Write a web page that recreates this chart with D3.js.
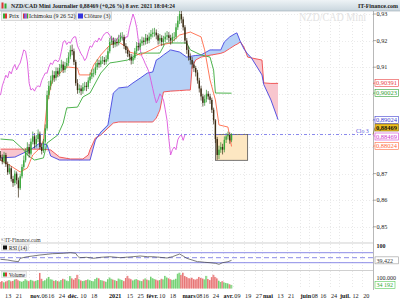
<!DOCTYPE html>
<html lang="fr">
<head>
<meta charset="utf-8">
<title>NZD/CAD Mini</title>
<script src="https://cdnjs.cloudflare.com/ajax/libs/d3/7.8.5/d3.min.js"></script>
<style>
body { margin: 0; background: #fff; }
svg { display: block; }
text { font-family: "Liberation Serif", "DejaVu Serif", serif; }
</style>
</head>
<body>
<script>
// daily candles, one per weekday from 9 Oct 2020 to 8 Apr 2021
var opens = [0.8770,0.8760,0.8745,0.8770,0.8735,0.8705,0.8720,0.8680,0.8665,0.8700,
  0.8675,0.8645,0.8690,0.8725,0.8750,0.8780,0.8800,0.8775,0.8820,0.8840,
  0.8810,0.8830,0.8850,0.8800,0.8785,0.8820,0.8870,0.8995,0.9030,0.9050,
  0.9070,0.9060,0.9085,0.9075,0.9097,0.9110,0.9090,0.9105,0.9116,0.9140,
  0.9165,0.9160,0.9120,0.9040,0.9014,0.9020,0.9010,0.9025,0.9030,0.9026,
  0.9050,0.9065,0.9078,0.9078,0.9100,0.9116,0.9110,0.9125,0.9127,0.9120,
  0.9130,0.9160,0.9195,0.9200,0.9185,0.9195,0.9190,0.9205,0.9214,0.9214,
  0.9180,0.9165,0.9150,0.9140,0.9125,0.9135,0.9160,0.9180,0.9175,0.9190,
  0.9200,0.9195,0.9210,0.9200,0.9215,0.9225,0.9230,0.9230,0.9220,0.9200,
  0.9210,0.9195,0.9205,0.9215,0.9220,0.9210,0.9200,0.9214,0.9214,0.9250,
  0.9275,0.9300,0.9280,0.9250,0.9200,0.9165,0.9140,0.9127,0.9110,0.9097,
  0.9080,0.9050,0.9020,0.8990,0.8966,0.8980,0.9000,0.8990,0.8977,0.8940,
  0.8900,0.8830,0.8770,0.8790,0.8800,0.8790,0.8827,0.8840,0.8845,0.8825];
var closes = [0.8760,0.8745,0.8770,0.8735,0.8705,0.8720,0.8680,0.8665,0.8700,0.8675,
  0.8645,0.8690,0.8725,0.8750,0.8780,0.8800,0.8775,0.8820,0.8840,0.8810,
  0.8830,0.8850,0.8800,0.8785,0.8820,0.8870,0.8995,0.9030,0.9050,0.9070,
  0.9060,0.9085,0.9075,0.9097,0.9110,0.9090,0.9105,0.9116,0.9140,0.9165,
  0.9160,0.9120,0.9040,0.9014,0.9020,0.9010,0.9025,0.9030,0.9026,0.9050,
  0.9065,0.9078,0.9078,0.9100,0.9116,0.9110,0.9125,0.9127,0.9120,0.9130,
  0.9160,0.9195,0.9200,0.9185,0.9195,0.9190,0.9205,0.9214,0.9214,0.9180,
  0.9165,0.9150,0.9140,0.9125,0.9135,0.9160,0.9180,0.9175,0.9190,0.9200,
  0.9195,0.9210,0.9200,0.9215,0.9225,0.9230,0.9230,0.9220,0.9200,0.9210,
  0.9195,0.9205,0.9215,0.9220,0.9210,0.9200,0.9214,0.9214,0.9250,0.9275,
  0.9300,0.9280,0.9250,0.9200,0.9165,0.9140,0.9127,0.9110,0.9097,0.9080,
  0.9050,0.9020,0.8990,0.8966,0.8980,0.9000,0.8990,0.8977,0.8940,0.8900,
  0.8830,0.8770,0.8790,0.8800,0.8790,0.8827,0.8840,0.8845,0.8825,0.88469];
var highs = [0.8785,0.8772,0.8782,0.8778,0.8745,0.8736,0.8728,0.8692,0.8712,0.8708,
  0.8685,0.8700,0.8735,0.8768,0.8795,0.8818,0.8812,0.8832,0.8858,0.8852,
  0.8845,0.8866,0.8858,0.8812,0.8830,0.8885,0.9012,0.9048,0.9068,0.9088,
  0.9085,0.9100,0.9098,0.9112,0.9128,0.9122,0.9120,0.9134,0.9156,0.9182,
  0.9185,0.9170,0.9128,0.9055,0.9035,0.9032,0.9040,0.9045,0.9044,0.9062,
  0.9080,0.9092,0.9095,0.9115,0.9130,0.9128,0.9140,0.9142,0.9138,0.9145,
  0.9175,0.9210,0.9218,0.9212,0.9210,0.9208,0.9222,0.9230,0.9232,0.9222,
  0.9190,0.9178,0.9162,0.9150,0.9148,0.9172,0.9195,0.9192,0.9205,0.9215,
  0.9212,0.9225,0.9222,0.9230,0.9240,0.9246,0.9248,0.9242,0.9228,0.9225,
  0.9220,0.9218,0.9230,0.9236,0.9232,0.9222,0.9228,0.9232,0.9265,0.9292,
  0.9325,0.9312,0.9290,0.9258,0.9210,0.9178,0.9152,0.9138,0.9122,0.9105,
  0.9090,0.9060,0.9030,0.9000,0.8995,0.9015,0.9010,0.9000,0.8985,0.8948,
  0.8905,0.8838,0.8805,0.8818,0.8812,0.8840,0.8852,0.8858,0.8855,0.8852];
var lows = [0.8748,0.8735,0.8738,0.8725,0.8695,0.8698,0.8670,0.8650,0.8655,0.8660,
  0.8610,0.8638,0.8682,0.8715,0.8742,0.8768,0.8760,0.8768,0.8810,0.8795,
  0.8798,0.8818,0.8790,0.8772,0.8778,0.8812,0.8862,0.8980,0.9015,0.9038,
  0.9045,0.9050,0.9062,0.9066,0.9085,0.9078,0.9080,0.9095,0.9105,0.9130,
  0.9145,0.9108,0.9030,0.9000,0.9002,0.8995,0.9000,0.9012,0.9010,0.9018,
  0.9040,0.9055,0.9062,0.9070,0.9090,0.9098,0.9100,0.9112,0.9108,0.9110,
  0.9122,0.9152,0.9185,0.9172,0.9175,0.9178,0.9182,0.9195,0.9200,0.9168,
  0.9152,0.9138,0.9125,0.9110,0.9112,0.9128,0.9150,0.9162,0.9165,0.9180,
  0.9182,0.9185,0.9188,0.9190,0.9205,0.9212,0.9215,0.9205,0.9185,0.9188,
  0.9180,0.9182,0.9195,0.9202,0.9195,0.9185,0.9190,0.9198,0.9205,0.9240,
  0.9262,0.9265,0.9238,0.9188,0.9150,0.9125,0.9110,0.9095,0.9082,0.9065,
  0.9038,0.9005,0.8975,0.8952,0.8955,0.8968,0.8978,0.8962,0.8928,0.8885,
  0.8815,0.8752,0.8755,0.8778,0.8772,0.8780,0.8815,0.8828,0.8812,0.8818];
// volumes in thousands
var volumes = [62,70,58,66,74,80,68,72,85,90, 78,70,64,72,88,76,70,82,75,68,
  73,80,148,92,70,78,95,110,88,84, 72,78,70,66,80,92,86,74,70,118,
  96,84,100,130,88,76,70,74,80,86, 78,72,68,90,102,96,80,76,70,64,
  88,104,92,84,78,72,94,86,80,70, 100,120,96,88,76,84,90,80,74,70,
  86,96,84,78,112,98,90,84,76,80, 92,86,120,104,96,88,80,84,92,140,
  150,128,150,118,110,98,96,102,88,84, 92,110,100,94,86,120,90,80,108,130,
  110,96,74,62,70,58,52,48,40,34.192];

// ichimoku lines read at breakpoints (day number, price)
var tenkanDays = [0,5,11,15,18,22,24,26,28,29,32,37,43,44,50,52,56,61,66,71,72,78,84,89,95,100,106,112,114,117,120,122,127,129];
var tenkanVals = [0.8751,0.8732,0.8706,0.8721,0.8770,0.8796,0.8826,0.8965,0.9026,0.9052,0.9071,0.9101,0.9097,0.9071,0.9071,0.9108,0.9146,0.9183,0.9195,0.9172,0.9157,0.9146,0.9165,0.9183,0.9191,0.9221,0.9232,0.9214,0.9165,0.9052,0.8977,0.8883,0.8875,0.8802];
var kijunDays = [0,7,13,15,19,24,26,32,35,37,43,46,50,56,61,65,71,78,89,92,104,106,112,117,119,120,129];
var kijunVals = [0.8830,0.8826,0.8789,0.8770,0.8751,0.8759,0.8815,0.8845,0.8890,0.8947,0.8950,0.8988,0.9003,0.9078,0.9116,0.9120,0.9127,0.9153,0.9153,0.9191,0.9191,0.9165,0.9146,0.9138,0.9089,0.9003,0.90023];
var cloudDays = [0,8,14,18,22,26,28,33,39,46,49,50,53,56,60,63,66,71,74,78,82,85,87,89,91,95,100,104,106,107,109,112,117,123,125,128,131,132,134,136,138,140,146,147,151,155];
var senkouA = [0.8759,0.8762,0.8781,0.8796,0.8815,0.8808,0.8766,0.8751,0.8751,0.8751,0.8751,0.8751,0.8826,0.8856,0.8883,0.9003,0.9022,0.9026,0.9041,0.9059,0.9078,0.9082,0.9127,0.9135,0.9146,0.9165,0.9157,0.9138,0.9140,0.9142,0.9144,0.9146,0.9165,0.9165,0.9195,0.9214,0.9226,0.9229,0.9195,0.9168,0.9150,0.9136,0.9071,0.9035,0.8977,0.89024];
var senkouB = [0.8792,0.8792,0.8792,0.8792,0.8792,0.8790,0.8789,0.8762,0.8755,0.8755,0.8770,0.8790,0.8834,0.8845,0.8871,0.8890,0.8894,0.8894,0.8894,0.8894,0.8894,0.8894,0.8909,0.8939,0.9007,0.9010,0.9012,0.9014,0.9014,0.9101,0.9127,0.9138,0.9145,0.9152,0.9157,0.9170,0.9183,0.9186,0.9195,0.9175,0.9138,0.9135,0.9127,0.9041,0.9039,0.90391];
var chikouShift = 26;

var rsiDays = [0,4,7,10,11,15,18,22,26,29,35,39,42,43,44,48,52,56,61,67,74,78,82,85,89,93,96,100,102,104,107,110,111,114,117,120,122,124,127,129];
var rsiVals = [43.6,40.8,36.8,34,47.6,54,56.8,60.8,63.6,66,67.6,70,67.6,56.8,50,51.6,47.6,51.6,54,50,54,56.8,54,54,51.6,48.8,54,64.8,56.8,47.6,40.8,34,34,31.6,30,27.6,23.6,30,34,39.4];

// highlighted zone
var boxDays = [120, 138];
var boxPrices = [0.8847, 0.8750];

// x axis
var dayTicks = [["2020-10-13","13"],["2020-10-21","21"],["2020-11-06","06"],["2020-11-16","16"],["2020-11-24","24"],
  ["2020-12-10","10"],["2020-12-18","18"],["2021-01-15","15"],["2021-01-25","25"],["2021-02-10","10"],["2021-02-18","18"],
  ["2021-03-08","08"],["2021-03-16","16"],["2021-03-24","24"],["2021-04-09","09"],["2021-04-19","19"],["2021-04-27","27"],
  ["2021-05-13","13"],["2021-05-21","21"],["2021-06-08","08"],["2021-06-16","16"],["2021-06-24","24"],["2021-07-12","12"],["2021-07-20","20"]];
var monthTicks = [["2020-11-02","nov."],["2020-12-01","déc."],["2021-01-01","2021"],["2021-02-01","févr."],["2021-03-01","mars"],
  ["2021-04-01","avr."],["2021-05-03","mai"],["2021-06-01","juin"],["2021-07-01","juil."]];
var priceTicks = [0.93, 0.92, 0.91, 0.87, 0.86, 0.85];
var priceGrid = [0.93, 0.92, 0.91, 0.90, 0.89, 0.88, 0.87, 0.86, 0.85];

// axis value tags: [value, text, border, background, text colour]
var tags = [
  [0.90391, "0,90391", "#e84040", "#fff", "#e84040"],
  [0.90023, "0,90023", "#30a030", "#fff", "#30a030"],
  [0.89024, "0,89024", "#4040d0", "#fff", "#4040d0"],
  [0.88469, "0,88469", "#7a6010", "#f0c020", "#111"],
  [0.88469, "0,88469", "#d040d0", "#fff", "#d040d0"],
  [0.88024, "0,88024", "#ff6a40", "#fff", "#ff6a40"]];
var tagY = [83, 93, 120, 127.5, 136.5, 145.8];

var w = 400, h = 300;
var plotR = 373;

var svg = d3.select("body").append("svg").attr("width", w).attr("height", h);

// weekday calendar
var fmt = d3.timeFormat("%Y-%m-%d");
var days = [];
for (var d = new Date(2020, 9, 9); days.length < 220; d.setDate(d.getDate() + 1)) {
  if (d.getDay() != 0 && d.getDay() != 6) days.push(fmt(d));
}
function dayIdx(s) { return days.indexOf(s); }

var x = d3.scaleLinear().domain([0, 208]).range([0.5, plotR]);
var y = d3.scaleLinear().domain([0.85, 0.93]).range([226.8, 14]);
var yR = d3.scaleLinear().domain([0, 100]).range([270.2, 245.2]);
var yV = d3.scaleLinear().domain([0, 100]).range([288.5, 278]);

var defs = svg.append("defs");
defs.append("clipPath").attr("id", "main").append("rect").attr("x", 0).attr("y", 11).attr("width", plotR).attr("height", 225);

// header
var grad = defs.append("linearGradient").attr("id", "hdr").attr("x1", 0).attr("y1", 0).attr("x2", 0).attr("y2", 1);
grad.append("stop").attr("offset", 0).attr("stop-color", "#eef3f6");
grad.append("stop").attr("offset", 1).attr("stop-color", "#c9d6de");
svg.append("rect").attr("width", w).attr("height", 11).attr("fill", "url(#hdr)");
svg.append("line").attr("x1", 0).attr("x2", w).attr("y1", 11).attr("y2", 11).attr("stroke", "#9aa8b2").attr("stroke-width", 0.6);
svg.append("rect").attr("x", 1.5).attr("y", 2.5).attr("width", 2).attr("height", 6).attr("fill", "#d33");
svg.append("rect").attr("x", 4.5).attr("y", 3.5).attr("width", 2).attr("height", 5).attr("fill", "#3a3");
svg.append("text").attr("x", 11).attr("y", 8).attr("font-size", 6.6).attr("font-weight", "bold").attr("fill", "#222")
  .attr("textLength", 164).attr("lengthAdjust", "spacingAndGlyphs")
  .text("NZD/CAD Mini Journalier 0,88469 (+0,26 %) 8 avr. 2021 18:04:24");
svg.append("text").attr("x", 398).attr("y", 8).attr("text-anchor", "end").attr("font-size", 6.4).attr("font-weight", "bold")
  .attr("fill", "#222").attr("textLength", 40).attr("lengthAdjust", "spacingAndGlyphs").text("IT-Finance.com");

// watermark
svg.append("text").attr("x", 299).attr("y", 21).attr("font-size", 11.5).attr("fill", "#e2e2e2")
  .attr("textLength", 67).attr("lengthAdjust", "spacingAndGlyphs").text("NZD/CAD Mini");

// grid
var allTicks = dayTicks.concat(monthTicks);
svg.append("g").selectAll("line").data(allTicks).enter().append("line")
  .attr("x1", function(t) { return Math.round(x(dayIdx(t[0]))) + 0.5; })
  .attr("x2", function(t) { return Math.round(x(dayIdx(t[0]))) + 0.5; })
  .attr("y1", 22).attr("y2", 289)
  .attr("stroke", "#e2e2e2").attr("stroke-width", 0.8).attr("stroke-dasharray", "1,2");
svg.append("g").selectAll("line").data(priceGrid).enter().append("line")
  .attr("x1", 0).attr("x2", plotR)
  .attr("y1", function(p) { return Math.round(y(p)) + 0.5; })
  .attr("y2", function(p) { return Math.round(y(p)) + 0.5; })
  .attr("stroke", "#e6e6e6").attr("stroke-width", 0.8).attr("stroke-dasharray", "1,2");

var main = svg.append("g").attr("clip-path", "url(#main)");

// highlighted zone
main.append("rect")
  .attr("x", x(boxDays[0])).attr("y", y(boxPrices[0]))
  .attr("width", x(boxDays[1]) - x(boxDays[0])).attr("height", y(boxPrices[1]) - y(boxPrices[0]))
  .attr("fill", "#fde7c2").attr("stroke", "#555").attr("stroke-width", 0.8);

// cloud
var cloud = cloudDays.map(function(dd, i) { return { d: dd, a: senkouA[i], b: senkouB[i] }; });
defs.append("clipPath").attr("id", "aboveB").append("path")
  .attr("d", d3.area().x(function(c) { return x(c.d); }).y0(0).y1(function(c) { return y(c.b); })(cloud));
defs.append("clipPath").attr("id", "belowB").append("path")
  .attr("d", d3.area().x(function(c) { return x(c.d); }).y0(h).y1(function(c) { return y(c.b); })(cloud));
var between = d3.area().x(function(c) { return x(c.d); })
  .y0(function(c) { return y(c.b); }).y1(function(c) { return y(c.a); });
main.append("path").attr("d", between(cloud)).attr("fill", "#b7d1f6").attr("clip-path", "url(#aboveB)");
main.append("path").attr("d", between(cloud)).attr("fill", "#f8c6ce").attr("clip-path", "url(#belowB)");
main.append("path").attr("d", d3.line().x(function(c) { return x(c.d); }).y(function(c) { return y(c.b); })(cloud))
  .attr("fill", "none").attr("stroke", "#f04848").attr("stroke-width", 0.9);
main.append("path").attr("d", d3.line().x(function(c) { return x(c.d); }).y(function(c) { return y(c.a); })(cloud))
  .attr("fill", "none").attr("stroke", "#4545e0").attr("stroke-width", 0.9);

// chikou: closes drawn 26 days back
var chikou = closes.slice(chikouShift).map(function(c, i) { return [i, c]; });
main.append("path").attr("d", d3.line().x(function(p) { return x(p[0]); }).y(function(p) { return y(p[1]); })(chikou))
  .attr("fill", "none").attr("stroke", "#dd55dd").attr("stroke-width", 0.9);

function brk(daysArr, vals) { return daysArr.map(function(dd, i) { return [dd, vals[i]]; }); }
var pline = d3.line().x(function(p) { return x(p[0]); }).y(function(p) { return y(p[1]); });
main.append("path").attr("d", pline(brk(kijunDays, kijunVals)))
  .attr("fill", "none").attr("stroke", "#3aaa3a").attr("stroke-width", 0.9);
main.append("path").attr("d", pline(brk(tenkanDays, tenkanVals)))
  .attr("fill", "none").attr("stroke", "#ff6a48").attr("stroke-width", 0.9);

// candles
var candles = main.append("g").selectAll("g").data(closes).enter().append("g");
candles.append("line")
  .attr("x1", function(c, i) { return x(i); }).attr("x2", function(c, i) { return x(i); })
  .attr("y1", function(c, i) { return y(highs[i]); }).attr("y2", function(c, i) { return y(lows[i]); })
  .attr("stroke", function(c, i) { return c >= opens[i] ? "#2c8c2c" : "#3a2a12"; }).attr("stroke-width", 0.7);
candles.append("rect")
  .attr("x", function(c, i) { return x(i) - 0.7; }).attr("width", 1.4)
  .attr("y", function(c, i) { return y(Math.max(c, opens[i])); })
  .attr("height", function(c, i) { return Math.max(0.6, Math.abs(y(c) - y(opens[i]))); })
  .attr("fill", function(c, i) { return c >= opens[i] ? "#39a839" : "#3a2a12"; });

// last close line
var last = closes[closes.length - 1];
svg.append("line").attr("x1", 0).attr("x2", plotR).attr("y1", y(last)).attr("y2", y(last))
  .attr("stroke", "#6a6ae6").attr("stroke-width", 0.8).attr("stroke-dasharray", "3,2,1,2");
svg.append("text").attr("x", 356).attr("y", y(last) - 1.5).attr("font-size", 5.8).attr("fill", "#5555dd").text("Clo 3");

// legend row
var legend = [["Prix", 1, 20], ["Ichimoku (9 26 52)", 21, 54], ["Clôture (3)", 76, 35]];
var lg = svg.append("g").selectAll("g").data(legend).enter().append("g");
lg.append("rect").attr("x", function(l) { return l[1] + 0.5; }).attr("y", 11.5).attr("width", function(l) { return l[2]; }).attr("height", 9)
  .attr("fill", "#f2f2f2").attr("stroke", "#c4c4c4").attr("stroke-width", 0.6);
lg.append("text").attr("x", function(l) { return l[1] + 8; }).attr("y", 18.4).attr("font-size", 6).attr("fill", "#222")
  .text(function(l) { return l[0]; });
svg.append("rect").attr("x", 3).attr("y", 13.5).attr("width", 2).attr("height", 5).attr("fill", "#3a3");
svg.append("rect").attr("x", 5).attr("y", 13.5).attr("width", 2).attr("height", 5).attr("fill", "#d33");
["#d33", "#33c", "#c4c", "#3a3"].forEach(function(c, i) {
  svg.append("rect").attr("x", 23 + i * 1.3).attr("y", 13.5).attr("width", 1.3).attr("height", 5).attr("fill", c);
});
svg.append("rect").attr("x", 78).attr("y", 13.5).attr("width", 5).attr("height", 5).attr("fill", "#3333dd");

// right axis
svg.append("line").attr("x1", plotR + 0.5).attr("x2", plotR + 0.5).attr("y1", 11).attr("y2", 290).attr("stroke", "#999").attr("stroke-width", 0.7);
var pt = svg.append("g").selectAll("g").data(priceTicks).enter().append("g");
pt.append("line").attr("x1", plotR).attr("x2", plotR + 3).attr("y1", function(p) { return y(p); }).attr("y2", function(p) { return y(p); })
  .attr("stroke", "#777").attr("stroke-width", 0.6);
pt.append("text").attr("x", plotR + 3.5).attr("y", function(p) { return y(p) + 2; }).attr("font-size", 6.2).attr("fill", "#222")
  .text(function(p) { return d3.format(".2f")(p).replace(".", ","); });

var tg = svg.append("g").selectAll("g").data(tags).enter().append("g");
tg.append("line").attr("x1", plotR).attr("x2", plotR + 2).attr("y1", function(t) { return y(t[0]); }).attr("y2", function(t, i) { return tagY[i]; })
  .attr("stroke", function(t) { return t[2]; }).attr("stroke-width", 0.6);
tg.append("rect").attr("x", plotR + 2).attr("y", function(t, i) { return tagY[i] - 3.5; }).attr("width", 23.5).attr("height", 7)
  .attr("fill", function(t) { return t[3]; }).attr("stroke", function(t) { return t[2]; }).attr("stroke-width", 0.6);
tg.append("text").attr("x", plotR + 3).attr("y", function(t, i) { return tagY[i] + 2.2; }).attr("font-size", 6)
  .attr("font-weight", function(t, i) { return i == 3 ? "bold" : "normal"; })
  .attr("fill", function(t) { return t[4]; }).attr("textLength", 21).attr("lengthAdjust", "spacingAndGlyphs")
  .text(function(t) { return t[1]; });

svg.append("text").attr("x", 1).attr("y", 242).attr("font-size", 5.6).attr("fill", "#333").text("©IT-Finance.com");

// RSI panel
[243, 270.5].forEach(function(yy) {
  svg.append("line").attr("x1", 0).attr("x2", plotR).attr("y1", yy).attr("y2", yy).attr("stroke", "#bbb").attr("stroke-width", 0.7);
});
[70, 30].forEach(function(v) {
  svg.append("line").attr("x1", 0).attr("x2", plotR).attr("y1", yR(v)).attr("y2", yR(v)).attr("stroke", "#6d6de0").attr("stroke-width", 0.8);
});
svg.append("line").attr("x1", 0).attr("x2", plotR).attr("y1", yR(50)).attr("y2", yR(50))
  .attr("stroke", "#6d6de0").attr("stroke-width", 0.8).attr("stroke-dasharray", "5,3");
svg.append("path").attr("d", d3.line().x(function(p) { return x(p[0]); }).y(function(p) { return yR(p[1]); })(brk(rsiDays, rsiVals)))
  .attr("fill", "none").attr("stroke", "#444").attr("stroke-width", 0.7);
svg.append("rect").attr("x", 1.5).attr("y", 244.5).attr("width", 27).attr("height", 6).attr("fill", "#f4f4f4").attr("stroke", "#ccc").attr("stroke-width", 0.5);
svg.append("rect").attr("x", 3).attr("y", 245.5).attr("width", 4).attr("height", 4).attr("fill", "#111");
svg.append("text").attr("x", 9).attr("y", 249.8).attr("font-size", 5.2).attr("fill", "#222").text("RSI (14)");
svg.append("text").attr("x", plotR + 3.5).attr("y", yR(100) + 2.5).attr("font-size", 6).attr("font-weight", "bold").attr("fill", "#222").text("100");
svg.append("rect").attr("x", plotR + 2).attr("y", yR(39.42) - 3.5).attr("width", 23.5).attr("height", 7)
  .attr("fill", "#fff").attr("stroke", "#999").attr("stroke-width", 0.6);
svg.append("text").attr("x", plotR + 3.5).attr("y", yR(39.42) + 2.2).attr("font-size", 6).attr("fill", "#333").text("39,422");

// volume panel: light bars with a stronger edge
var vb = svg.append("g").selectAll("g").data(volumes).enter().append("g");
vb.append("rect")
  .attr("x", function(v, i) { return x(i) - 0.9; }).attr("width", 1.8)
  .attr("y", function(v) { return yV(v); }).attr("height", function(v) { return yV(0) - yV(v); })
  .attr("fill", function(v, i) { return closes[i] >= opens[i] ? "#a6e4a6" : "#f2aaaa"; });
vb.append("rect")
  .attr("x", function(v, i) { return x(i) - 0.9; }).attr("width", 0.6)
  .attr("y", function(v) { return yV(v); }).attr("height", function(v) { return yV(0) - yV(v); })
  .attr("fill", function(v, i) { return closes[i] >= opens[i] ? "#4cc24c" : "#e05050"; });
svg.append("rect").attr("x", 1.5).attr("y", 271.5).attr("width", 25).attr("height", 6).attr("fill", "#f4f4f4").attr("stroke", "#ccc").attr("stroke-width", 0.5);
svg.append("rect").attr("x", 3).attr("y", 272.5).attr("width", 2).attr("height", 4).attr("fill", "#3a3");
svg.append("rect").attr("x", 5).attr("y", 272.5).attr("width", 2).attr("height", 4).attr("fill", "#d33");
svg.append("text").attr("x", 9).attr("y", 276.8).attr("font-size", 5.2).attr("fill", "#222").text("Volume");
svg.append("text").attr("x", plotR + 3.5).attr("y", yV(100) + 2).attr("font-size", 6).attr("fill", "#222").text("100.000");
svg.append("rect").attr("x", plotR + 2).attr("y", yV(34.192) - 3.5).attr("width", 20).attr("height", 7)
  .attr("fill", "#fff").attr("stroke", "#5c5").attr("stroke-width", 0.6);
svg.append("text").attr("x", plotR + 3.5).attr("y", yV(34.192) + 2.2).attr("font-size", 6).attr("fill", "#3a3").text("34 192");

// x labels: placed left to right, each pushed just past the previous one
var xl = dayTicks.map(function(t) { return { i: dayIdx(t[0]), s: t[1], bold: false }; })
  .concat(monthTicks.map(function(t) { return { i: dayIdx(t[0]), s: t[1], bold: true }; }))
  .sort(function(a, b) { return a.i - b.i; });
var xlG = svg.append("g");
var prevEnd = -10;
xl.forEach(function(l) {
  var t = xlG.append("text").attr("y", 297.5).attr("font-size", 6.2)
    .attr("font-weight", l.bold ? "bold" : "normal").attr("fill", l.bold ? "#111" : "#222").text(l.s);
  var lx = Math.max(x(l.i) + 1, prevEnd + 0.4);
  t.attr("x", lx);
  prevEnd = lx + t.node().getComputedTextLength();
});
</script>
</body>
</html>
